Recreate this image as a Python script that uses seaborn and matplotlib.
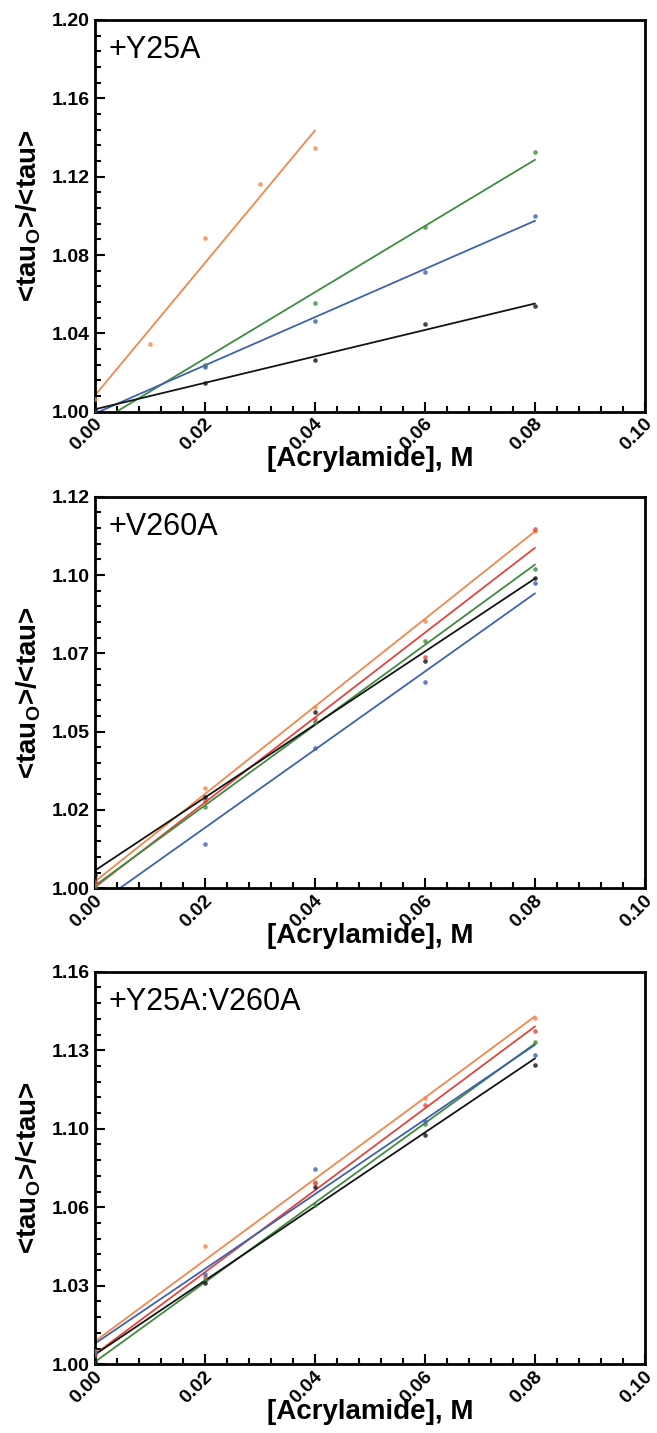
import numpy as np
import pandas as pd
import matplotlib
matplotlib.use("Agg")
import matplotlib.pyplot as plt
import matplotlib.transforms as mtransforms
from matplotlib.ticker import AutoMinorLocator, FormatStrFormatter
import seaborn as sns

# ---------------- data ----------------
conc = [0.00, 0.02, 0.04, 0.06, 0.08]
conc_fine = [0.00, 0.01, 0.02, 0.03, 0.04]

# Panel 1: +Y25A
y25a_orange = [1.0063, 1.0344, 1.0886, 1.1161, 1.1345]   # at conc_fine
y25a_green = [0.9987, 1.0240, 1.0554, 1.0945, 1.1325]
y25a_blue = [1.0010, 1.0230, 1.0463, 1.0712, 1.0999]
y25a_black = [1.0014, 1.0148, 1.0264, 1.0446, 1.0540]

# Panel 2: +V260A
v260a_orange = [1.0010, 1.0306, 1.0557, 1.0819, 1.1095]
v260a_red = [1.0021, 1.0268, 1.0518, 1.0710, 1.1100]
v260a_green = [1.0003, 1.0250, 1.0511, 1.0759, 1.0978]
v260a_black = [1.0040, 1.0281, 1.0541, 1.0698, 1.0950]
v260a_blue = [0.9989, 1.0135, 1.0431, 1.0633, 1.0937]

# Panel 3: +Y25A:V260A
dbl_orange = [1.0056, 1.0483, 1.0744, 1.1086, 1.1410]
dbl_red = [1.0038, 1.0357, 1.0738, 1.1055, 1.1358]
dbl_green = [1.0008, 1.0345, 1.0649, 1.0979, 1.1312]
dbl_blue = [1.0050, 1.0370, 1.0795, 1.0990, 1.1262]
dbl_black = [1.0010, 1.0333, 1.0721, 1.0934, 1.1218]

panel_titles = ["+Y25A", "+V260A", "+Y25A:V260A"]
panel_ymax = [1.20, 1.12, 1.16]
x_ticks = [0.00, 0.02, 0.04, 0.06, 0.08, 0.10]
xlabel_text = "[Acrylamide], M"
ylabel_text = r"<tau$_\mathregular{O}$>$\mathbf{/}$<tau>"

COL = {"orange": "#F0884E", "red": "#E0463E", "green": "#3F8C40",
       "blue": "#3E62AC", "black": "#141414"}

panels = [
    [("orange", conc_fine, y25a_orange), ("green", conc, y25a_green),
     ("blue", conc, y25a_blue), ("black", conc, y25a_black)],
    [("orange", conc, v260a_orange), ("red", conc, v260a_red),
     ("green", conc, v260a_green), ("black", conc, v260a_black),
     ("blue", conc, v260a_blue)],
    [("orange", conc, dbl_orange), ("red", conc, dbl_red),
     ("green", conc, dbl_green), ("blue", conc, dbl_blue),
     ("black", conc, dbl_black)],
]

# ---------------- style ----------------
sns.set_theme(style="white")
plt.rcParams["font.family"] = ["Liberation Sans", "DejaVu Sans"]
plt.rcParams["mathtext.fontset"] = "custom"
plt.rcParams["mathtext.rm"] = "Liberation Sans"
plt.rcParams["mathtext.bf"] = "Liberation Sans:bold"

W, H = 657, 1433
fig = plt.figure(figsize=(W / 100, H / 100), dpi=100)
fig.patch.set_facecolor("white")

axes_px = [(20, 411.7), (496.7, 888.3), (971.7, 1364.3)]
left_px, right_px = 95, 645

for i, (top, bot) in enumerate(axes_px):
    ax = fig.add_axes([left_px / W, 1 - bot / H, (right_px - left_px) / W, (bot - top) / H])
    for name, xs, ys in panels[i]:
        df = pd.DataFrame({"x": xs, "y": ys})
        sns.regplot(data=df, x="x", y="y", ax=ax, ci=None, truncate=True,
                    color=COL[name],
                    scatter_kws={"s": 11, "linewidths": 0, "zorder": 3},
                    line_kws={"lw": 1.3, "zorder": 2})
    ymax = panel_ymax[i]
    ax.set_xlim(0, 0.10)
    ax.set_ylim(1.0, ymax)
    ax.set_xticks(x_ticks)
    ax.set_yticks(np.linspace(1.0, ymax, 6))
    ax.xaxis.set_major_formatter(FormatStrFormatter("%.2f"))
    ax.yaxis.set_major_formatter(FormatStrFormatter("%.2f"))
    ax.xaxis.set_minor_locator(AutoMinorLocator(5))
    ax.yaxis.set_minor_locator(AutoMinorLocator(5))
    ax.tick_params(which="both", direction="in", bottom=True, left=True,
                   top=False, right=False, color="black", width=1.5,
                   labelcolor="black")
    ax.tick_params(which="major", length=7)
    ax.tick_params(which="minor", length=4.5)
    ax.tick_params(axis="y", which="major", pad=4, labelsize=14)
    ax.tick_params(axis="x", which="major", pad=7, labelsize=14)
    for lab in ax.get_yticklabels():
        lab.set_fontweight("bold")
    offset = mtransforms.ScaledTranslation(5 / 100, 0, fig.dpi_scale_trans)
    for lab in ax.get_xticklabels():
        lab.set_fontweight("bold")
        lab.set_rotation(45)
        lab.set_ha("right")
        lab.set_va("center")
        lab.set_rotation_mode("anchor")
        lab.set_transform(lab.get_transform() + offset)
    for sp in ax.spines.values():
        sp.set_visible(True)
        sp.set_color("black")
        sp.set_linewidth(2.0)
    ax.set_xlabel(xlabel_text, fontsize=20, fontweight="bold", color="black")
    ax.xaxis.set_label_coords(0.5, -0.088)
    ax.xaxis.label.set_va("top")
    ax.set_ylabel(ylabel_text, fontsize=20, fontweight="bold", color="black")
    ax.yaxis.set_label_coords(-0.12, 0.5)
    ax.yaxis.label.set_va("center")
    ax.text(0.024, 0.962, panel_titles[i], transform=ax.transAxes,
            fontsize=22, ha="left", va="top", color="black")

fig.savefig("out.png", dpi=100, facecolor="white")
